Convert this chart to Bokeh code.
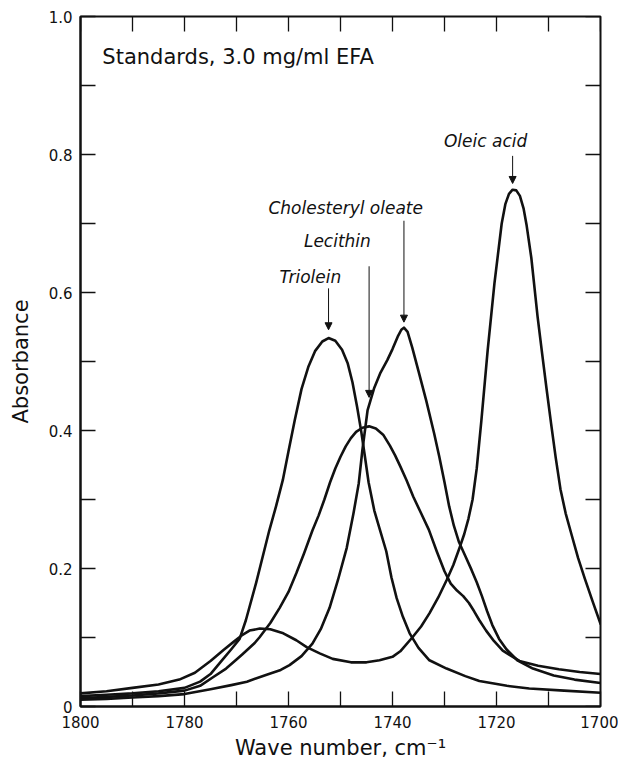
from bokeh.plotting import figure
from bokeh.models import Range1d, LinearAxis, FixedTicker, Arrow, NormalHead, PrintfTickFormatter
from bokeh.core.properties import value
from bokeh.embed import file_html
from bokeh.resources import INLINE

# Carbonyl-band absorbance of the lipid standards (wave number in cm^-1)
oleic_x = [1800, 1795, 1790, 1785, 1781, 1778, 1775, 1772.5, 1770.5, 1769, 1767.5,
           1765.5, 1763.5, 1761, 1758.5, 1756.5, 1754, 1751.5, 1748, 1745, 1742.5,
           1740, 1738.5, 1736.2, 1734.5, 1732.9, 1731.2, 1729.6, 1728.3, 1727.1,
           1726.2, 1725.4, 1724.6, 1723.8, 1722.9, 1721.7, 1720.4, 1719.0, 1718.3,
           1717.6, 1716.9, 1716.2, 1715.5, 1714.8, 1714.2, 1713.3, 1712.1, 1711.2,
           1710.4, 1709.5, 1708.6, 1707.7, 1706.7, 1705.6, 1704.3, 1703.0, 1701.5, 1700]
oleic_y = [0.019, 0.022, 0.027, 0.032, 0.039, 0.049, 0.066, 0.082, 0.094, 0.103, 0.110,
           0.113, 0.112, 0.106, 0.096, 0.086, 0.077, 0.069, 0.064, 0.064, 0.067,
           0.072, 0.080, 0.100, 0.116, 0.135, 0.158, 0.183, 0.205, 0.230,
           0.250, 0.272, 0.300, 0.345, 0.415, 0.516, 0.613, 0.700, 0.728,
           0.743, 0.749, 0.748, 0.740, 0.722, 0.697, 0.650, 0.565, 0.510,
           0.462, 0.410, 0.360, 0.315, 0.280, 0.250, 0.215, 0.185, 0.152, 0.120]

triolein_x = [1800, 1795, 1790, 1785, 1780, 1777, 1775, 1773, 1771, 1769.4, 1768.2,
              1766.2, 1763.7, 1762.4, 1761.1, 1760.0, 1758.8, 1757.5, 1756.2, 1754.9,
              1753.5, 1752.3, 1751.0, 1749.7, 1748.6, 1747.7, 1746.8, 1746.0, 1745.3,
              1744.6, 1743.5, 1742.5, 1741.2, 1740.2, 1739.2, 1738.0, 1736.7, 1735.0,
              1732.9, 1729.6, 1726, 1723.3, 1718, 1713.7, 1707, 1700]
triolein_y = [0.015, 0.017, 0.019, 0.022, 0.027, 0.036, 0.047, 0.065, 0.083, 0.098, 0.125,
              0.180, 0.255, 0.290, 0.328, 0.370, 0.415, 0.460, 0.492, 0.515,
              0.529, 0.534, 0.530, 0.517, 0.497, 0.470, 0.434, 0.398, 0.362,
              0.325, 0.284, 0.258, 0.225, 0.187, 0.157, 0.130, 0.106, 0.085,
              0.067, 0.055, 0.044, 0.037, 0.030, 0.026, 0.023, 0.020]

lecithin_x = [1800, 1795, 1790, 1785, 1780, 1777, 1774.6, 1772, 1770, 1768.8, 1766.5,
              1765.6, 1763.5, 1761.7, 1760, 1758.5, 1757, 1755.4, 1754.2, 1753.1,
              1752.0, 1751.0, 1750.0, 1749.0, 1748.0, 1747.0, 1745.8, 1744.5, 1743.2,
              1741.8, 1740.5, 1739.5, 1738.5, 1737.3, 1736.0, 1734.5, 1733.0, 1731.5,
              1730.0, 1728.8, 1727.6, 1726.4, 1725.3, 1724.3, 1723.3, 1722.0, 1720.5,
              1718.8, 1715.6, 1712, 1708, 1704, 1700]
lecithin_y = [0.012, 0.014, 0.016, 0.019, 0.023, 0.030, 0.042, 0.055, 0.068, 0.076, 0.092,
              0.100, 0.121, 0.143, 0.166, 0.193, 0.222, 0.255, 0.277, 0.300,
              0.325, 0.345, 0.362, 0.377, 0.389, 0.398, 0.404, 0.406, 0.403,
              0.394, 0.378, 0.364, 0.348, 0.328, 0.304, 0.280, 0.256, 0.225,
              0.196, 0.178, 0.168, 0.160, 0.150, 0.138, 0.125, 0.110, 0.095,
              0.081, 0.066, 0.059, 0.054, 0.050, 0.047]

chol_x = [1800, 1795, 1790, 1785, 1780, 1775, 1771, 1768, 1764.2, 1761.5, 1759.8,
          1757.5, 1755.4, 1753.8, 1752.1, 1750.5, 1748.8, 1747.5, 1746.5, 1745.8,
          1744.8, 1743.5, 1742.3, 1741.0, 1740.0, 1739.0, 1738.3, 1737.8, 1737.1,
          1736.2, 1735, 1733.5, 1732, 1731, 1730, 1729.1, 1728.2, 1727.2, 1726,
          1724.8, 1723.8, 1722.8, 1721.8, 1720.8, 1719.5, 1718.1, 1716, 1713, 1709,
          1705, 1700]
chol_y = [0.010, 0.011, 0.013, 0.015, 0.018, 0.025, 0.031, 0.036, 0.046, 0.053, 0.060,
          0.073, 0.091, 0.112, 0.143, 0.183, 0.230, 0.280, 0.323, 0.371,
          0.429, 0.462, 0.484, 0.502, 0.518, 0.536, 0.546, 0.549, 0.543,
          0.520, 0.486, 0.443, 0.396, 0.362, 0.325, 0.290, 0.262, 0.238, 0.218,
          0.198, 0.180, 0.160, 0.138, 0.118, 0.098, 0.083, 0.067, 0.055, 0.045,
          0.039, 0.034]

# Peak annotations: text, text centre, and where each arrow starts / stops above its peak
peak_names = ["Triolein", "Lecithin", "Cholesteryl oleate", "Oleic acid"]
peak_label_x = [1755.8, 1750.6, 1749.0, 1722.1]
peak_label_y = [0.623, 0.674, 0.722, 0.820]
arrow_top = [0.606, 0.638, 0.704, 0.798]
arrow_gap = [0.012, 0.042, 0.008, 0.009]

x_major = [1800, 1780, 1760, 1740, 1720, 1700]
x_minor = [1790, 1770, 1750, 1730, 1710]
y_major = [0, 0.2, 0.4, 0.6, 0.8, 1.0]
y_minor = [0.1, 0.3, 0.5, 0.7, 0.9]

FONT = "DejaVu Sans"
INK = "#111111"
W, H = 618, 763
BORDER_L, BORDER_R, BORDER_T, BORDER_B = 80, 18, 16, 57
TICK = 15  # inward tick length, px

X0, X1 = 1800, 1700
Y0, Y1 = 0, 1.0

p = figure(width=W, height=H, output_backend="svg", toolbar_location=None,
           x_range=Range1d(X0, X1), y_range=Range1d(Y0, Y1),
           x_axis_location=None, y_axis_location=None,
           min_border_left=BORDER_L, min_border_right=BORDER_R,
           min_border_top=BORDER_T, min_border_bottom=BORDER_B)
p.outline_line_color = INK
p.outline_line_width = 2
p.xgrid.visible = False
p.ygrid.visible = False
p.background_fill_color = "white"
p.border_fill_color = "white"


def style_axis(ax):
    ax.axis_line_color = INK
    ax.axis_line_width = 2
    ax.major_tick_line_color = INK
    ax.minor_tick_line_color = INK
    ax.major_tick_line_width = 1.3
    ax.minor_tick_line_width = 1.3
    ax.major_tick_in = TICK
    ax.major_tick_out = 0
    ax.minor_tick_in = TICK
    ax.minor_tick_out = 0
    ax.major_label_text_font = FONT
    ax.major_label_text_font_size = "15px"
    ax.major_label_text_color = INK
    ax.axis_label_text_font = FONT
    ax.axis_label_text_font_size = "21px"
    ax.axis_label_text_font_style = "normal"
    ax.axis_label_text_color = INK


bottom = LinearAxis(ticker=FixedTicker(ticks=x_major, minor_ticks=x_minor),
                    axis_label="Wave number, cm\u207b\u00b9")
style_axis(bottom)
bottom.major_label_standoff = 9
bottom.axis_label_standoff = 5
p.add_layout(bottom, "below")

left = LinearAxis(ticker=FixedTicker(ticks=y_major, minor_ticks=y_minor),
                  axis_label="Absorbance")
style_axis(left)
left.formatter = PrintfTickFormatter(format="%.1f")
left.major_label_standoff = 8
left.major_label_overrides = {0: "0"}
left.axis_label_standoff = 13
p.add_layout(left, "left")

# inward ticks along the top and right edges of the frame
frame_w = W - BORDER_L - BORDER_R
frame_h = H - BORDER_T - BORDER_B
dy = TICK * (Y1 - Y0) / frame_h
dx = TICK * abs(X1 - X0) / frame_w
top_ticks = x_major + x_minor
right_ticks = y_major + y_minor
p.segment(x0=top_ticks, y0=[Y1] * len(top_ticks), x1=top_ticks,
          y1=[Y1 - dy] * len(top_ticks), line_color=INK, line_width=1.3)
p.segment(x0=[X1] * len(right_ticks), y0=right_ticks, x1=[X1 + dx] * len(right_ticks),
          y1=right_ticks, line_color=INK, line_width=1.3)

series = [(triolein_x, triolein_y), (lecithin_x, lecithin_y),
          (chol_x, chol_y), (oleic_x, oleic_y)]
for xs, ys in series:
    p.line(xs, ys, line_color=INK, line_width=2.6, line_join="round", line_cap="round")

# arrows pointing down to each peak maximum
for (xs, ys), top_y, gap in zip(series, arrow_top, arrow_gap):
    k = ys.index(max(ys))
    p.add_layout(Arrow(x_start=xs[k], y_start=top_y, x_end=xs[k], y_end=ys[k] + gap,
                       line_color=INK, line_width=1,
                       end=NormalHead(size=7, fill_color=INK, line_color=INK)))

p.text(x=peak_label_x, y=peak_label_y, text=peak_names,
       text_font=value(FONT), text_font_style="italic", text_font_size="17px",
       text_align="center", text_baseline="middle", text_color=INK)

p.text(x=[1795.8], y=[0.941], text=["Standards, 3.0 mg/ml EFA"],
       text_font=value(FONT), text_font_size="21px",
       text_align="left", text_baseline="middle", text_color=INK)

open("out.html", "w").write(file_html(p, INLINE))
